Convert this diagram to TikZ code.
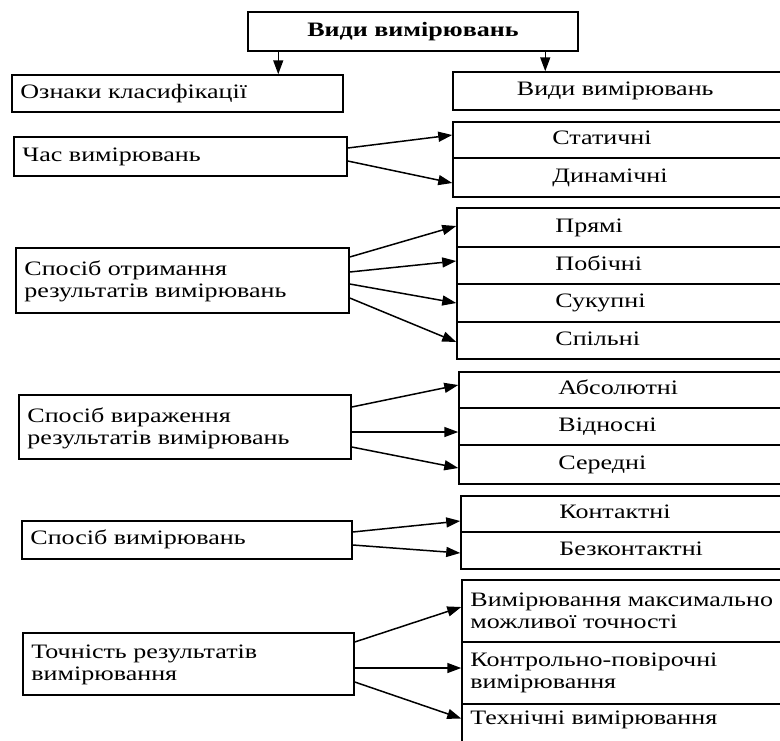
\documentclass[tikz,border=0pt]{standalone}
\usepackage{fontspec}
\setmainfont{Liberation Serif}[FakeStretch=1.27]
\usetikzlibrary{arrows.meta}
\begin{document}
\begin{tikzpicture}[x=1pt,y=-1pt,
  box/.style={draw, line width=1.5pt, rectangle, inner sep=0pt},
  txt/.style={font=\fontsize{20.5}{22}\selectfont, inner sep=0pt, align=left, text height=14pt, text depth=4.5pt},
  txttwo/.style={font=\fontsize{20.5}{22}\selectfont, inner sep=0pt, align=left},
  arr/.style={line width=1.5pt, -{Triangle[length=14pt,width=10pt]}}]
\useasboundingbox (0,0) rectangle (780,740);
% top
\node[box, minimum width=330pt, minimum height=39pt] (T) at (413,31.5) {};
\node[txt, font=\fontsize{20.5}{22}\selectfont\bfseries] (tT) at (T.center) {Види вимірювань};
% left boxes
\node[box, minimum width=331pt, minimum height=37pt] (L0) at (177.5,93.5) {};
\node[box, minimum width=333pt, minimum height=39pt] (L1) at (180.5,156.5) {};
\node[box, minimum width=333pt, minimum height=65pt] (L2) at (182.5,280.5) {};
\node[box, minimum width=332pt, minimum height=64pt] (L3) at (185,427) {};
\node[box, minimum width=330pt, minimum height=38pt] (L4) at (187,540) {};
\node[box, minimum width=331pt, minimum height=62pt] (L5) at (188.5,664) {};
\node[txt, anchor=west] (tL0) at ([xshift=9pt]L0.west) {Ознаки класифікації};
\node[txt, anchor=west] (tL1) at ([xshift=9pt]L1.west) {Час вимірювань};
\node[txttwo, anchor=west] (tL2) at ([xshift=9pt,yshift=-1pt]L2.west) {Спосіб отримання\\результатів вимірювань};
\node[txttwo, anchor=west] (tL3) at ([xshift=9pt,yshift=-1pt]L3.west) {Спосіб вираження\\результатів вимірювань};
\node[txt, anchor=west] (tL4) at ([xshift=9pt]L4.west) {Спосіб вимірювань};
\node[txttwo, anchor=west] (tL5) at ([xshift=9pt,yshift=-1pt]L5.west) {Точність результатів\\вимірювання};
% right header
\node[box, minimum width=329pt, minimum height=38pt] (R0) at (617.5,91) {};
\node[txt] (tR0) at ([xshift=163pt]R0.west) {Види вимірювань};
% group 1
\node[box, minimum width=329pt, minimum height=36pt] (S1) at (617.5,140) {};
\node[box, minimum width=329pt, minimum height=39pt] (S2) at (617.5,177.5) {};
\node[txt, anchor=west] (tS1) at ([xshift=100pt]S1.west) {Статичні};
\node[txt, anchor=west] (tS2) at ([xshift=100pt]S2.west) {Динамічні};
% group 2
\node[box, minimum width=325pt, minimum height=39pt] (P1) at (619.5,227.5) {};
\node[box, minimum width=325pt, minimum height=37pt] (P2) at (619.5,265.5) {};
\node[box, minimum width=325pt, minimum height=38pt] (P3) at (619.5,303) {};
\node[box, minimum width=325pt, minimum height=37pt] (P4) at (619.5,340.5) {};
\node[txt, anchor=west] (tP1) at ([xshift=99pt]P1.west) {Прямі};
\node[txt, anchor=west] (tP2) at ([xshift=99pt]P2.west) {Побічні};
\node[txt, anchor=west] (tP3) at ([xshift=99pt]P3.west) {Сукупні};
\node[txt, anchor=west] (tP4) at ([xshift=99pt]P4.west) {Спільні};
% group 3
\node[box, minimum width=323pt, minimum height=36pt] (A1) at (620.5,390) {};
\node[box, minimum width=323pt, minimum height=37pt] (A2) at (620.5,426.5) {};
\node[box, minimum width=323pt, minimum height=39pt] (A3) at (620.5,464.5) {};
\node[txt, anchor=west] (tA1) at ([xshift=100pt]A1.west) {Абсолютні};
\node[txt, anchor=west] (tA2) at ([xshift=100pt]A2.west) {Відносні};
\node[txt, anchor=west] (tA3) at ([xshift=100pt]A3.west) {Середні};
% group 4
\node[box, minimum width=321pt, minimum height=36pt] (K1) at (621.5,514) {};
\node[box, minimum width=321pt, minimum height=37pt] (K2) at (621.5,550.5) {};
\node[txt, anchor=west] (tK1) at ([xshift=99pt]K1.west) {Контактні};
\node[txt, anchor=west] (tK2) at ([xshift=99pt]K2.west) {Безконтактні};
% group 5
\node[box, minimum width=320pt, minimum height=62pt] (V1) at (622,611) {};
\node[box, minimum width=320pt, minimum height=62pt] (V2) at (622,673) {};
\node[box, minimum width=320pt, minimum height=42pt] (V3) at (622,725) {};
\node[txttwo, anchor=west] (tV1) at ([xshift=9pt]V1.west) {Вимірювання максимально\\можливої точності};
\node[txttwo, anchor=west] (tV2) at ([xshift=9pt]V2.west) {Контрольно-повірочні\\вимірювання};
\node[txt, anchor=west] (tV3) at ([xshift=9pt,yshift=5pt]V3.west) {Технічні вимірювання};
% top arrows
\draw[arr] ([xshift=31pt]T.south west) -- ([xshift=267pt]L0.north west);
\draw[arr] ([xshift=298pt]T.south west) -- ([xshift=93pt]R0.north west);
% group arrows
\draw[arr] ([yshift=8.5pt]L1.east) -- ([yshift=5pt]S1.west);
\draw[arr] ([yshift=-4.5pt]L1.east) -- ([yshift=-5.5pt]S2.west);
\draw[arr] ([yshift=23.5pt]L2.east) -- ([yshift=1.5pt]P1.west);
\draw[arr] ([yshift=8.5pt]L2.east) -- ([yshift=4.5pt]P2.west);
\draw[arr] ([yshift=-3.5pt]L2.east) -- (P3.west);
\draw[arr] ([yshift=-17.5pt]L2.east) -- ([yshift=-1.5pt]P4.west);
\draw[arr] ([yshift=20pt]L3.east) -- ([yshift=5pt]A1.west);
\draw[arr] ([yshift=-5pt]L3.east) -- ([yshift=-5.5pt]A2.west);
\draw[arr] ([yshift=-20pt]L3.east) -- ([yshift=-3.5pt]A3.west);
\draw[arr] ([yshift=8pt]L4.east) -- ([yshift=-7pt]K1.west);
\draw[arr] ([yshift=-5pt]L4.east) -- ([yshift=-2.5pt]K2.west);
\draw[arr] ([yshift=22pt]L5.east) -- ([yshift=4pt]V1.west);
\draw[arr] ([yshift=-4pt]L5.east) -- ([yshift=5pt]V2.west);
\draw[arr] ([yshift=-18pt]L5.east) -- ([yshift=6.5pt]V3.west);
\end{tikzpicture}
\end{document}
